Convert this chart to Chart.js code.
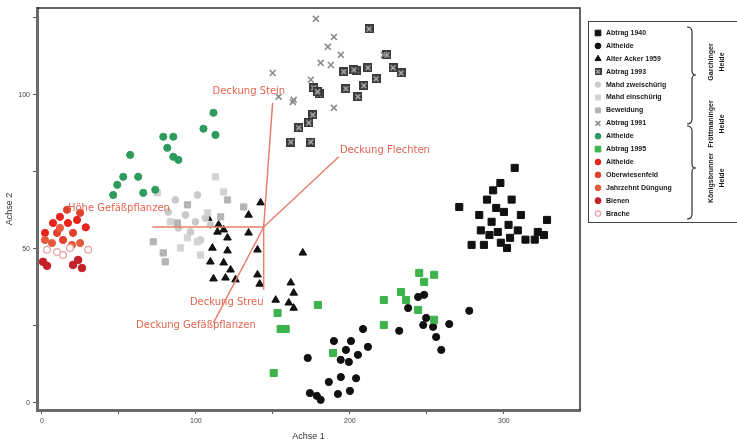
<!DOCTYPE html>
<html><head><meta charset="utf-8">
<script src="https://cdn.jsdelivr.net/npm/chart.js@4/dist/chart.umd.min.js"></script>
<style>html,body{margin:0;padding:0;background:#fff}#wrap{width:737px;height:444px;position:relative}</style>
</head><body><div id="wrap"><canvas id="c" width="737" height="444"></canvas></div>
<script>
// ---------- DATA ----------
const seriesNames = ['Abtrag 1940','Altheide','Alter Acker 1959','Abtrag 1993','Mahd zweischürig','Mahd einschürig','Beweidung','Abtrag 1991','Altheide','Abtrag 1995','Altheide','Oberwiesenfeld','Jahrzehnt Düngung','Bienen','Brache'];

const abtrag1940X = [271,279,284,287,289,292,293,295,296,298,300,302,303,304,305,307,309,311,314,320,322,326,328,290.6,297.7,285];
const abtrag1940Y = [63.6,51.3,61,51.3,66,58.8,69,63.3,55.5,52,62,50.3,57.8,53.6,66,76.3,56,61,53,53,55.5,54.5,59.4,54.5,71.4,56];

const altheideBlackX = [208.5,189.6,200.7,197.4,205.2,211.7,199.3,172.6,186.3,194.1,192.2,200,174,181,232,237.8,244.3,248.2,249.5,247.6,256,259.3,264.5,277.5,254,194,178.5,204];
const altheideBlackY = [24,20.1,20.1,17.2,15.6,18.2,13.3,14.6,6.8,8.4,2.9,3.9,3.2,1,23.4,30.8,34.4,35.1,27.6,25.3,21.4,17.2,25.6,29.9,24.7,14,2.3,8];

const acker1959X = [142,134.2,134.2,140,108,118,120.5,110.7,120.5,109.4,118,122.5,111.4,119.2,125.7,140,141.4,169.4,161.6,163.5,151.8,163.5,160.3,114.7,114];
const acker1959Y = [65,61,55.2,49.7,60,56.2,53.6,50.3,49.4,45.8,45.5,43.2,40.3,40.6,40,41.6,38.6,48.7,39,35.7,33.4,30.8,32.5,57.8,55.5];

const abtrag1993X = [212.4,204,211.7,196,197.4,209,217,205.2,228,233.2,176.5,180,175.9,161.6,174.6,166.8,173.3,179,202.6,224];
const abtrag1993Y = [121.4,107.8,108.8,107.5,102,103,105.2,99.4,108.8,107.1,102.3,100.3,93.5,84.7,84.7,89.3,90.9,101,108.1,113];

const mahd2X = [101,86.6,93.2,99.7,106.2,96.4,88.6,102.9,109.4,82];
const mahd2Y = [67.5,65.9,61,58.8,60,55.5,56.8,52.9,57.8,62];

const mahd1X = [74.9,94.5,101,102.9,112.7,118,107.5,90,83.4];
const mahd1Y = [68.2,53.6,52.3,48,73.4,68.5,61.7,50.3,58.8];

const beweidungX = [72.3,78.8,80.1,131,120.5,116,94.5,88];
const beweidungY = [52.3,48.7,45.8,63.6,65.9,60.4,64.3,58.4];

const abtrag1991X = [177.9,189.6,185.7,194.1,181,174.6,189.6,163.5,149.8,222,162.9,187.6,153.7];
const abtrag1991Y = [124.7,118.8,115.6,113,110.4,104.9,95.8,98.4,107.1,113,97.7,109.7,99.4];

const altheideGreenX = [111.4,104.9,112.7,78.8,85.3,81.4,85.3,57.3,62.5,52.8,65.8,48.9,73.6,88.6,46.3];
const altheideGreenY = [94.2,89,87,86.4,86.4,82.8,79.9,80.5,73.4,73.4,68.2,70.8,69.2,78.9,67.5];

const abtrag1995X = [245,254.7,248.2,233.2,236.5,244.3,222,222,254.7,189,179.2,155,158.3,153,150.5];
const abtrag1995Y = [42.2,41.6,39.3,36,33.4,30.2,33.4,25.3,27,16.2,31.8,24,24,29.2,9.7];

const altheideRedX = [2,7.2,11.7,16.9,22.8,28.5];
const altheideRedY = [55.2,58.4,60.4,58.4,59.4,57];
const oberwiesenX = [24.8,9.8,13.7,20.2,16.3];
const oberwiesenY = [61.7,55.2,52.9,55.2,62.7];
const duengungX = [24.8,2,6.5,11.7,19.5];
const duengungY = [51.9,52.9,51.9,56.8,51.3];
const bienenX = [0.7,3.3,20.2,26,23.5];
const bienenY = [45.8,44.5,44.8,43.8,46.4];
const bracheX = [3.3,9.8,18.2,30,13.7];
const bracheY = [49.7,49,50.3,49.7,48];

// environmental vectors (biplot)
const vecNames = ['Deckung Stein','Deckung Flechten','Höhe Gefäßpflanzen','Deckung Gefäßpflanzen','Deckung Streu'];
const vecOriginX = 144, vecOriginY = 57.1;
const vecEndX = [149.8,192.8,71.7,111.4,144];
const vecEndY = [97.4,79.9,57.1,26,36.7];
const vecLabelX = [134.4,193.5,50,100,120];
const vecLabelY = [101,82.1,63.2,25.3,32.5];

const xTickValues = [0,50,100,150,200,250,300];
const xTickLabels = ['0','','100','','200','','300'];
const yTickValues = [0,25,50,75,100,125];
const yTickLabels = ['0','','50','','100',''];

const groupLabels = [['Garchinger','Heide'],['Fröttmaninger','Heide'],['Königsbrunner','Heide']];

// ---------- STYLES ----------
function boxX(){const c=document.createElement('canvas');c.width=9;c.height=9;const g=c.getContext('2d');
 g.fillStyle='#3a3a3a';g.fillRect(0,0,9,9);g.strokeStyle='#bdbdbd';g.lineWidth=1.2;g.beginPath();g.moveTo(2,2);g.lineTo(7,7);g.moveTo(7,2);g.lineTo(2,7);g.stroke();return c;}
const boxImg = boxX();
const styles = [
 {ps:'rect',r:5,fill:'#111',stroke:'#111'},
 {ps:'circle',r:3.6,fill:'#111',stroke:'#111'},
 {ps:'triangle',r:4.4,fill:'#111',stroke:'#111'},
 {ps:boxImg,r:4.5,fill:'#3a3a3a',stroke:'#3a3a3a',img:true},
 {ps:'circle',r:3.4,fill:'#c9c9c9',stroke:'#c9c9c9'},
 {ps:'rect',r:4.4,fill:'#d3d3d3',stroke:'#d3d3d3'},
 {ps:'rect',r:4.4,fill:'#b5b5b5',stroke:'#b5b5b5'},
 {ps:'crossRot',r:4.2,fill:'rgba(0,0,0,0)',stroke:'#8a8a8a',bw:1.6},
 {ps:'circle',r:3.6,fill:'#2e9b5e',stroke:'#2e9b5e'},
 {ps:'rect',r:5,fill:'#3db34c',stroke:'#3db34c'},
 {ps:'circle',r:3.6,fill:'#e8241c',stroke:'#e8241c'},
 {ps:'circle',r:3.6,fill:'#e2402e',stroke:'#e2402e'},
 {ps:'circle',r:3.6,fill:'#e65a3e',stroke:'#e65a3e'},
 {ps:'circle',r:3.8,fill:'#c4222a',stroke:'#c4222a'},
 {ps:'circle',r:3.4,fill:'#ffffff',stroke:'#e6a0a0',bw:1.2}
];
const seriesX = [abtrag1940X,altheideBlackX,acker1959X,abtrag1993X,mahd2X,mahd1X,beweidungX,abtrag1991X,altheideGreenX,abtrag1995X,altheideRedX,oberwiesenX,duengungX,bienenX,bracheX];
const seriesY = [abtrag1940Y,altheideBlackY,acker1959Y,abtrag1993Y,mahd2Y,mahd1Y,beweidungY,abtrag1991Y,altheideGreenY,abtrag1995Y,altheideRedY,oberwiesenY,duengungY,bienenY,bracheY];

const datasets = [];
vecNames.forEach((n,i)=>{
 datasets.push({type:'line',label:n,data:[{x:vecOriginX,y:vecOriginY},{x:vecEndX[i],y:vecEndY[i]}],
  borderColor:'#e4806e',borderWidth:1.5,pointRadius:0,showLine:true,fill:false,order:-1});
});
seriesNames.forEach((n,i)=>{
 const st=styles[i];
 datasets.push({type:'scatter',label:n,data:seriesX[i].map((x,k)=>({x:x,y:seriesY[i][k]})),
  pointStyle:st.ps,pointRadius:st.r,backgroundColor:st.fill,borderColor:st.stroke,borderWidth:st.bw||1,order:15-i});
});

function drawMarker(ctx,st,x,y,scale){
 const r=st.r*scale;
 ctx.save();ctx.fillStyle=st.fill;ctx.strokeStyle=st.stroke;ctx.lineWidth=st.bw||1;
 ctx.beginPath();
 if(st.img){ctx.drawImage(boxImg,x-3.5,y-3.5,7,7);ctx.restore();return;}
 if(st.ps==='rect'){const s=Math.SQRT1_2*r;ctx.rect(x-s,y-s,2*s,2*s);ctx.fill();ctx.stroke();}
 else if(st.ps==='circle'){ctx.arc(x,y,r,0,Math.PI*2);ctx.fill();ctx.stroke();}
 else if(st.ps==='triangle'){ctx.moveTo(x,y-r);ctx.lineTo(x+r*0.87,y+r*0.5);ctx.lineTo(x-r*0.87,y+r*0.5);ctx.closePath();ctx.fill();ctx.stroke();}
 else if(st.ps==='crossRot'){const s=r*0.7;ctx.moveTo(x-s,y-s);ctx.lineTo(x+s,y+s);ctx.moveTo(x+s,y-s);ctx.lineTo(x-s,y+s);ctx.stroke();}
 ctx.restore();
}

const decor = {
 id:'decor',
 afterDatasetsDraw(chart){
  const ctx=chart.ctx, xs=chart.scales.x, ys=chart.scales.y, a=chart.chartArea;
  // vector labels
  ctx.save();ctx.fillStyle='#e2644f';ctx.font='10px "DejaVu Sans", Verdana, sans-serif';ctx.textBaseline='middle';
  vecNames.forEach((n,i)=>{ctx.textAlign = i===1?'left':'center';ctx.fillText(n,xs.getPixelForValue(vecLabelX[i]),ys.getPixelForValue(vecLabelY[i]));});
  ctx.restore();
  // frame
  ctx.save();ctx.strokeStyle='#333';ctx.lineWidth=1.5;
  ctx.beginPath();ctx.moveTo(a.left,a.top);ctx.lineTo(a.right,a.top);ctx.lineTo(a.right,a.bottom);ctx.stroke();ctx.restore();
  // legend box
  ctx.save();ctx.strokeStyle='#444';ctx.lineWidth=1;ctx.strokeRect(588.5,21.5,160,201);
  ctx.font='bold 7px "Liberation Sans", Arial, sans-serif';ctx.fillStyle='#1a1a1a';ctx.textBaseline='middle';ctx.textAlign='left';
  seriesNames.forEach((n,i)=>{const y=33+i*12.9;drawMarker(ctx,styles[i],598,y,0.8);ctx.fillStyle='#1a1a1a';ctx.fillText(n,606,y);});
  // braces
  ctx.strokeStyle='#333';ctx.lineWidth=1.2;
  function brace(y0,y1,tip){ctx.beginPath();ctx.moveTo(687,y0);ctx.quadraticCurveTo(692,y0,692,y0+5);ctx.lineTo(692,tip-4);ctx.quadraticCurveTo(692,tip,696,tip);ctx.quadraticCurveTo(692,tip,692,tip+4);ctx.lineTo(692,y1-5);ctx.quadraticCurveTo(692,y1,687,y1);ctx.stroke();}
  brace(27,124,75);brace(126,219,168);
  // rotated group labels
  ctx.fillStyle='#1a1a1a';ctx.textAlign='center';ctx.font='bold 7px "Liberation Sans", Arial, sans-serif';
  const centers=[62,124,178];
  groupLabels.forEach((g,i)=>{
   ctx.save();ctx.translate(711,centers[i]);ctx.rotate(-Math.PI/2);ctx.fillText(g[0],0,0);ctx.restore();
   ctx.save();ctx.translate(722,centers[i]);ctx.rotate(-Math.PI/2);ctx.fillText(g[1],0,0);ctx.restore();
  });
  ctx.restore();
 }
};

new Chart(document.getElementById('c'),{
 data:{datasets},
 options:{
  responsive:false,animation:false,
  layout:{padding:{left:0,right:157,top:8,bottom:0}},
  plugins:{legend:{display:false},tooltip:{enabled:false}},
  scales:{
   x:{type:'linear',min:-3.2,max:349.4,
    afterBuildTicks:(s)=>{s.ticks=xTickValues.map(v=>({value:v}));},
    afterFit:(s)=>{s.height=34;},
    ticks:{callback:(v)=>xTickLabels[xTickValues.indexOf(v)]??'',font:{size:7,family:'"Liberation Sans", Arial'},color:'#444',padding:3,maxRotation:0,autoSkip:false},
    grid:{drawOnChartArea:false,drawTicks:true,tickLength:4,color:'#555'},
    border:{display:true,color:'#6a6a6a',width:3},
    title:{display:true,text:'Achse 1',font:{size:9,family:'"Liberation Sans", Arial'},color:'#333',padding:{top:2,bottom:2}}
   },
   y:{type:'linear',min:-2.3,max:128.2,
    afterBuildTicks:(s)=>{s.ticks=yTickValues.map(v=>({value:v}));},
    afterFit:(s)=>{s.width=37;},
    ticks:{callback:(v)=>yTickLabels[yTickValues.indexOf(v)]??'',font:{size:7,family:'"Liberation Sans", Arial'},color:'#444',padding:3,autoSkip:false},
    grid:{drawOnChartArea:false,drawTicks:true,tickLength:4,color:'#555'},
    border:{display:true,color:'#6a6a6a',width:3},
    title:{display:true,text:'Achse 2',font:{size:9,family:'"Liberation Sans", Arial'},color:'#333',padding:{top:4,bottom:2}}
   }
  }
 },
 plugins:[decor]
});
</script></body></html>
